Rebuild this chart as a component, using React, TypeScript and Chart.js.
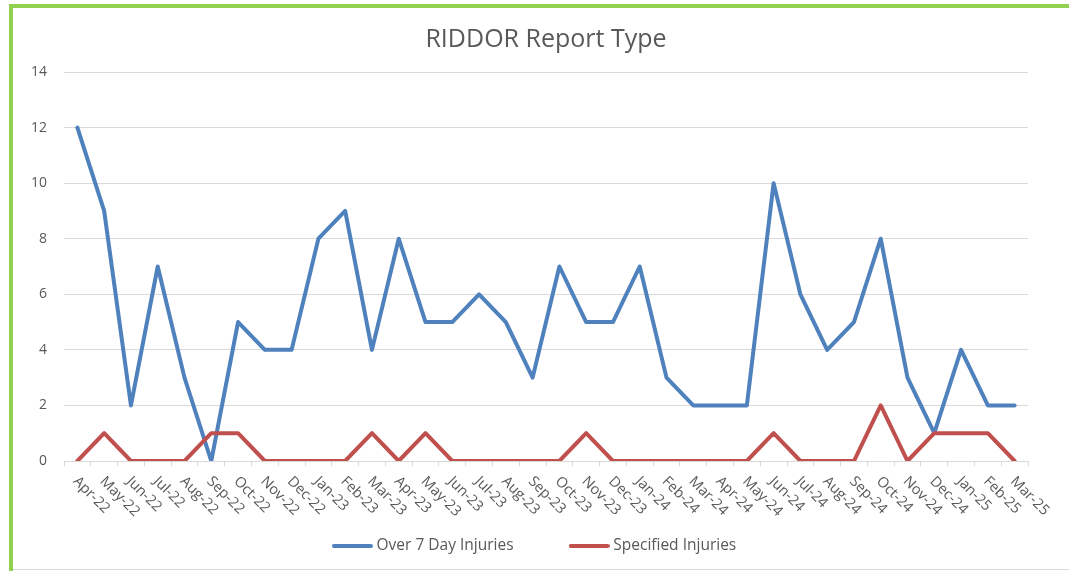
import React, { useEffect, useRef } from "react";
import { Chart, registerables } from "chart.js";

Chart.register(...registerables);

const months = [
  "Apr-22", "May-22", "Jun-22", "Jul-22", "Aug-22", "Sep-22", "Oct-22", "Nov-22", "Dec-22",
  "Jan-23", "Feb-23", "Mar-23", "Apr-23", "May-23", "Jun-23", "Jul-23", "Aug-23", "Sep-23",
  "Oct-23", "Nov-23", "Dec-23", "Jan-24", "Feb-24", "Mar-24", "Apr-24", "May-24", "Jun-24",
  "Jul-24", "Aug-24", "Sep-24", "Oct-24", "Nov-24", "Dec-24", "Jan-25", "Feb-25", "Mar-25",
];

const over7DayInjuries = [
  12, 9, 2, 7, 3, 0, 5, 4, 4, 8, 9, 4, 8, 5, 5, 6, 5, 3,
  7, 5, 5, 7, 3, 2, 2, 2, 10, 6, 4, 5, 8, 3, 1, 4, 2, 2,
];

const specifiedInjuries = [
  0, 1, 0, 0, 0, 1, 1, 0, 0, 0, 0, 1, 0, 1, 0, 0, 0, 0,
  0, 1, 0, 0, 0, 0, 0, 0, 1, 0, 0, 0, 2, 0, 1, 1, 1, 0,
];

const yTicks = [0, 2, 4, 6, 8, 10, 12, 14];

const titleText = "RIDDOR Report Type";
const seriesNames = ["Over 7 Day Injuries", "Specified Injuries"];
const seriesColors = ["#4f81bd", "#c0504d"];

const FONT = "'Open Sans', 'DejaVu Sans', sans-serif";
const TEXT = "#595959";
const GRID = "#d9d9d9";

function legendLine(color: string) {
  const c = document.createElement("canvas");
  c.width = 41;
  c.height = 6;
  const g = c.getContext("2d")!;
  g.strokeStyle = color;
  g.lineWidth = 4;
  g.lineCap = "round";
  g.beginPath();
  g.moveTo(2, 3);
  g.lineTo(39, 3);
  g.stroke();
  return c;
}

export default function App() {
  const ref = useRef<HTMLCanvasElement | null>(null);

  useEffect(() => {
    const canvas = ref.current;
    if (!canvas) return;

    const framePlugin = {
      id: "frame",
      beforeDraw(chart: any) {
        const ctx = chart.ctx;
        ctx.save();
        ctx.fillStyle = "#ffffff";
        ctx.fillRect(0, 0, chart.width, chart.height);
        ctx.fillStyle = "#92d050";
        ctx.fillRect(9, 4, chart.width - 9, 4);
        ctx.fillRect(9, 4, 4, chart.height - 4);
        ctx.fillStyle = GRID;
        ctx.fillRect(13, 569, chart.width - 13, 1);
        ctx.restore();
      },
    };

    const labelPlugin = {
      id: "axisLabels",
      afterDraw(chart: any) {
        const ctx = chart.ctx;
        const xs = chart.scales.x;
        const ys = chart.scales.y;
        const area = chart.chartArea;
        ctx.save();
        ctx.fillStyle = TEXT;
        // y labels
        ctx.font = `14px ${FONT}`;
        ctx.textAlign = "right";
        ctx.textBaseline = "middle";
        yTicks.forEach((v) => {
          ctx.fillText(String(v), area.left - 17, ys.getPixelForValue(v));
        });
        // x labels (rotated downwards)
        ctx.font = `14.5px ${FONT}`;
        ctx.textAlign = "left";
        months.forEach((m, i) => {
          const x = xs.getPixelForValue(i);
          ctx.save();
          ctx.translate(x - 2, area.bottom + 18);
          ctx.rotate(Math.PI / 4);
          ctx.fillText(m, 0, 0);
          ctx.restore();
        });
        ctx.restore();
      },
    };

    const chart = new Chart(canvas, {
      type: "line",
      data: {
        labels: months,
        datasets: [
          {
            label: seriesNames[0],
            data: over7DayInjuries,
            borderColor: seriesColors[0],
            backgroundColor: seriesColors[0],
            borderWidth: 4,
            pointRadius: 0,
            pointStyle: legendLine(seriesColors[0]),
            tension: 0,
            borderJoinStyle: "round",
            borderCapStyle: "round",
            order: 1,
          },
          {
            label: seriesNames[1],
            data: specifiedInjuries,
            borderColor: seriesColors[1],
            backgroundColor: seriesColors[1],
            borderWidth: 4,
            pointRadius: 0,
            pointStyle: legendLine(seriesColors[1]),
            tension: 0,
            borderJoinStyle: "round",
            borderCapStyle: "round",
            order: 0,
          },
        ],
      },
      options: {
        responsive: false,
        animation: false,
        devicePixelRatio: 1,
        layout: { padding: { left: 44, right: 41, top: 0, bottom: 7.25 } },
        plugins: {
          title: {
            display: true,
            fullSize: false,
            text: titleText,
            color: TEXT,
            font: { family: FONT, size: 25, weight: "normal", lineHeight: 1.2 },
            padding: { top: 25, bottom: 17 },
          },
          legend: {
            position: "bottom",
            labels: {
              usePointStyle: true,
              pointStyleWidth: 33,
              boxWidth: 33,
              padding: 59,
              color: TEXT,
              font: { family: FONT, size: 15.5 },
              sort: (a: any, b: any) => a.datasetIndex - b.datasetIndex,
            },
          },
          tooltip: { enabled: false },
        },
        scales: {
          x: {
            type: "category",
            offset: true,
            afterFit: (s: any) => {
              s.height = 18.25;
            },
            grid: {
              drawOnChartArea: false,
              drawTicks: true,
              tickLength: 5,
              color: GRID,
              offset: true,
            },
            border: { display: true, color: GRID, width: 1 },
            ticks: { display: false },
          },
          y: {
            min: 0,
            max: 14,
            afterFit: (s: any) => {
              s.width = 20;
            },
            ticks: { stepSize: 2, display: false },
            grid: { color: GRID, drawTicks: false },
            border: { display: false },
          },
        },
      },
      plugins: [framePlugin, labelPlugin],
    } as any);

    return () => chart.destroy();
  }, []);

  return (
    <div style={{ position: "absolute", left: 0, top: 0, width: 1069, height: 571 }}>
      <canvas ref={ref} width={1069} height={571} style={{ display: "block" }} />
    </div>
  );
}
